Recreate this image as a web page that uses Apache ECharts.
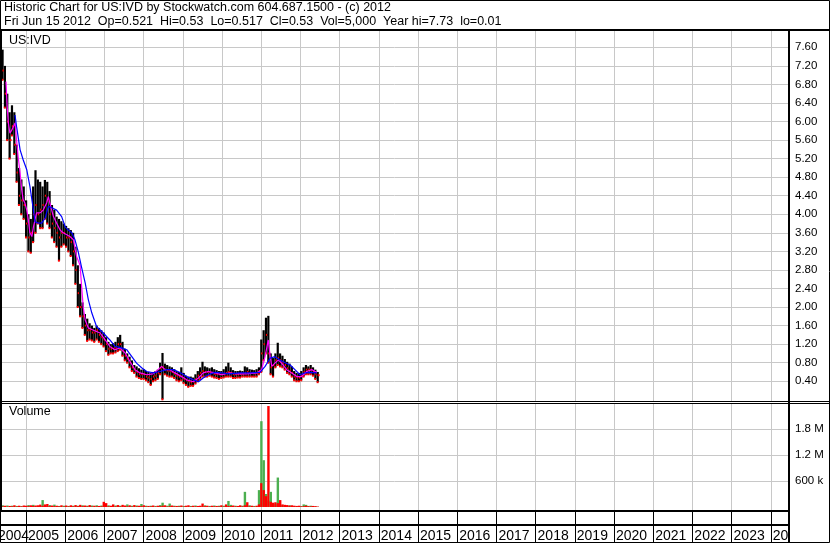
<!DOCTYPE html>
<html><head><meta charset="utf-8">
<script src="https://cdn.jsdelivr.net/npm/echarts@6/dist/echarts.min.js"></script>
<style>html,body{margin:0;padding:0;background:#fff}#c{width:830px;height:543px}</style>
</head><body><div id="c"></div>
<script>
// ---- tick labels ----
const priceTicks = [0.4,0.8,1.2,1.6,2.0,2.4,2.8,3.2,3.6,4.0,4.4,4.8,5.2,5.6,6.0,6.4,6.8,7.2,7.6];
const volTicks = [600,1200,1800]; // thousands
const yearTicks = [2005,2006,2007,2008,2009,2010,2011,2012,2013,2014,2015,2016,2017,2018,2019,2020,2021,2022,2023,2024];
const firstYearLabel = '2004'; // partial year at the left edge of the axis

// ---- price bars (decimal year, high, low, close) ----
const barDates = [2004.34,2004.40,2004.46,2004.52,2004.58,2004.64,2004.70,2004.76,2004.82,2004.88,2004.94,2005.00,2005.06,2005.12,2005.18,2005.24,2005.30,2005.36,2005.42,2005.48,2005.54,2005.60,2005.66,2005.72,2005.78,2005.84,2005.90,2005.96,2006.02,2006.08,2006.14,2006.20,2006.26,2006.32,2006.38,2006.44,2006.50,2006.56,2006.62,2006.68,2006.74,2006.80,2006.86,2006.92,2006.98,2007.04,2007.10,2007.16,2007.22,2007.28,2007.34,2007.40,2007.46,2007.52,2007.58,2007.64,2007.70,2007.76,2007.82,2007.88,2007.94,2008.00,2008.06,2008.12,2008.18,2008.24,2008.30,2008.36,2008.42,2008.48,2008.54,2008.60,2008.66,2008.72,2008.78,2008.84,2008.90,2008.96,2009.02,2009.08,2009.14,2009.20,2009.26,2009.32,2009.38,2009.44,2009.50,2009.56,2009.62,2009.68,2009.74,2009.80,2009.86,2009.92,2009.98,2010.04,2010.10,2010.16,2010.22,2010.28,2010.34,2010.40,2010.46,2010.52,2010.58,2010.64,2010.70,2010.76,2010.82,2010.88,2010.94,2011.00,2011.06,2011.12,2011.18,2011.24,2011.30,2011.36,2011.42,2011.48,2011.54,2011.60,2011.66,2011.72,2011.78,2011.84,2011.90,2011.96,2012.02,2012.08,2012.14,2012.20,2012.26,2012.32,2012.38,2012.44];
const barHigh = [7.72,7.55,7.20,6.60,6.20,6.35,6.20,5.50,5.00,4.75,4.60,4.30,4.00,3.90,4.60,4.95,4.75,4.70,4.60,4.74,4.70,4.50,4.20,4.10,3.95,3.90,3.85,3.80,3.75,3.70,3.66,3.60,3.30,2.90,2.50,2.10,1.85,1.75,1.65,1.60,1.55,1.60,1.55,1.50,1.45,1.35,1.25,1.20,1.22,1.25,1.35,1.40,1.25,1.10,1.00,0.93,0.85,0.75,0.72,0.68,0.65,0.66,0.62,0.60,0.58,0.60,0.62,0.65,0.80,1.01,0.78,0.75,0.72,0.70,0.66,0.62,0.60,0.70,0.58,0.52,0.50,0.50,0.48,0.55,0.62,0.70,0.82,0.72,0.70,0.68,0.70,0.66,0.64,0.62,0.62,0.66,0.72,0.80,0.70,0.64,0.62,0.62,0.63,0.62,0.72,0.70,0.66,0.65,0.64,0.66,0.70,1.30,1.50,1.77,1.81,1.00,0.90,1.00,1.23,1.00,0.95,0.88,0.82,0.78,0.72,0.62,0.58,0.58,0.62,0.70,0.75,0.72,0.75,0.70,0.65,0.60];
const barLow = [7.00,6.90,6.30,5.60,5.20,5.70,5.30,4.70,4.20,4.00,3.90,3.50,3.20,3.17,3.40,3.60,3.80,3.70,3.70,3.90,3.80,3.70,3.50,3.40,3.30,3.00,3.30,3.35,3.30,3.20,3.10,2.90,2.50,2.00,1.80,1.55,1.40,1.27,1.30,1.28,1.25,1.30,1.25,1.20,1.15,1.05,0.97,1.00,1.00,1.02,1.05,1.08,0.95,0.85,0.80,0.70,0.62,0.58,0.50,0.47,0.45,0.45,0.42,0.38,0.32,0.40,0.42,0.45,0.55,0.01,0.55,0.52,0.50,0.50,0.47,0.42,0.40,0.42,0.36,0.32,0.28,0.30,0.30,0.35,0.40,0.45,0.50,0.50,0.50,0.52,0.50,0.48,0.47,0.45,0.47,0.48,0.50,0.50,0.50,0.47,0.47,0.48,0.48,0.50,0.50,0.50,0.50,0.50,0.50,0.50,0.55,0.60,0.85,1.00,0.80,0.55,0.50,0.70,0.75,0.72,0.70,0.65,0.58,0.55,0.50,0.42,0.40,0.40,0.42,0.50,0.55,0.55,0.55,0.52,0.45,0.38];
const barClose = [7.30,7.10,6.60,6.00,5.60,5.90,5.50,4.90,4.40,4.30,4.20,3.80,3.50,3.60,4.00,4.20,4.00,4.10,4.20,4.40,4.30,4.00,3.80,3.70,3.60,3.50,3.60,3.60,3.50,3.50,3.40,3.20,2.80,2.30,2.00,1.80,1.60,1.50,1.50,1.45,1.45,1.50,1.40,1.35,1.30,1.20,1.10,1.10,1.10,1.12,1.20,1.20,1.05,0.95,0.88,0.80,0.70,0.65,0.60,0.55,0.55,0.55,0.50,0.48,0.45,0.50,0.52,0.58,0.68,0.70,0.65,0.63,0.62,0.60,0.56,0.52,0.50,0.50,0.45,0.42,0.40,0.38,0.40,0.45,0.52,0.58,0.62,0.60,0.60,0.60,0.58,0.56,0.55,0.55,0.55,0.56,0.58,0.60,0.58,0.55,0.55,0.55,0.56,0.56,0.58,0.60,0.58,0.58,0.57,0.58,0.62,1.00,1.20,1.40,1.00,0.70,0.75,0.85,0.90,0.85,0.80,0.75,0.68,0.62,0.58,0.50,0.48,0.48,0.52,0.60,0.65,0.65,0.65,0.60,0.55,0.53];

// ---- moving averages [decimal year, value] ----
const maShort = [[2004.49,6.86],[2004.52,6.32],[2004.55,5.97],[2004.59,5.75],[2004.64,5.82],[2004.68,5.89],[2004.72,5.97],[2004.76,5.6],[2004.80,5.24],[2004.85,4.89],[2004.89,4.53],[2004.93,4.31],[2004.97,4.25],[2005.02,4.09],[2005.06,3.88],[2005.10,3.6],[2005.15,3.52],[2005.19,3.73],[2005.23,3.88],[2005.27,4.03],[2005.31,4.06],[2005.36,4.03],[2005.44,4.09],[2005.53,4.25],[2005.57,4.38],[2005.61,4.24],[2005.70,3.95],[2005.78,3.81],[2005.87,3.66],[2005.95,3.6],[2006.04,3.56],[2006.12,3.52],[2006.21,3.45],[2006.29,3.09],[2006.38,2.9],[2006.42,2.44],[2006.46,2.0],[2006.51,1.72],[2006.59,1.55],[2006.72,1.5],[2006.89,1.44],[2007.02,1.29],[2007.14,1.15],[2007.27,1.08],[2007.40,1.12],[2007.53,1.01],[2007.65,0.83],[2007.78,0.65],[2007.91,0.58],[2008.08,0.54],[2008.24,0.56],[2008.37,0.65],[2008.46,0.72],[2008.55,0.65],[2008.67,0.65],[2008.80,0.58],[2008.97,0.5],[2009.10,0.43],[2009.27,0.39],[2009.40,0.47],[2009.52,0.58],[2009.65,0.61],[2009.82,0.58],[2009.99,0.54],[2010.20,0.58],[2010.37,0.56],[2010.63,0.56],[2010.89,0.58],[2011.01,0.65],[2011.10,0.93],[2011.18,1.29],[2011.23,0.93],[2011.27,0.72],[2011.35,0.79],[2011.44,0.86],[2011.52,0.79],[2011.65,0.65],[2011.78,0.58],[2011.91,0.5],[2012.03,0.5],[2012.16,0.61],[2012.29,0.65],[2012.42,0.59]];
const maLong = [[2004.72,6.14],[2004.76,5.89],[2004.80,5.67],[2004.85,5.39],[2004.93,5.17],[2005.02,4.96],[2005.10,4.6],[2005.19,4.09],[2005.23,3.84],[2005.31,3.81],[2005.40,3.81],[2005.49,3.92],[2005.57,4.17],[2005.66,4.14],[2005.78,4.09],[2005.91,3.95],[2006.00,3.73],[2006.08,3.66],[2006.17,3.6],[2006.25,3.45],[2006.33,3.2],[2006.42,2.85],[2006.51,2.52],[2006.59,2.16],[2006.68,1.87],[2006.80,1.58],[2006.97,1.44],[2007.14,1.29],[2007.27,1.15],[2007.44,1.12],[2007.57,1.08],[2007.70,0.93],[2007.82,0.79],[2007.95,0.69],[2008.08,0.61],[2008.25,0.58],[2008.42,0.61],[2008.59,0.65],[2008.76,0.65],[2008.93,0.59],[2009.10,0.5],[2009.27,0.43],[2009.40,0.39],[2009.52,0.47],[2009.65,0.54],[2009.82,0.59],[2009.99,0.58],[2010.20,0.56],[2010.46,0.58],[2010.71,0.58],[2010.97,0.59],[2011.10,0.72],[2011.23,0.9],[2011.35,0.93],[2011.48,0.86],[2011.61,0.8],[2011.74,0.75],[2011.86,0.65],[2011.99,0.54],[2012.12,0.58],[2012.25,0.59],[2012.42,0.58]];

// ---- volume (thousands) per bar date: up (green) and down (red) ----
const volGreen = [20,40,15,35,10,30,15,25,10,20,15,10,45,15,50,20,15,25,160,20,30,45,15,55,10,25,15,30,10,25,15,30,20,30,15,40,15,30,20,35,15,40,10,35,20,25,40,15,20,35,15,30,15,20,60,15,30,10,35,10,70,15,30,10,30,15,25,10,45,100,15,30,80,15,30,10,30,15,25,10,15,25,10,35,10,20,15,40,15,25,10,35,10,30,15,30,20,140,50,15,30,10,20,30,350,40,40,15,25,10,390,1980,1080,300,150,350,80,60,680,50,40,30,20,40,25,15,20,15,20,60,50,25,30,15,10,5];
const volRed = [240,15,30,10,25,15,40,10,30,15,35,30,20,40,25,35,40,55,30,60,70,20,35,20,30,15,40,10,35,15,40,15,45,20,50,20,35,15,45,10,30,15,25,15,120,90,15,30,60,15,45,15,50,35,15,40,10,45,15,30,20,40,10,25,15,35,10,30,20,30,40,10,20,35,15,25,15,35,10,30,40,10,30,15,25,30,80,20,30,10,30,15,25,15,40,10,60,25,20,35,15,25,40,15,40,110,15,30,10,30,60,550,390,250,2330,120,100,110,90,160,60,50,45,30,40,30,25,30,15,20,30,20,15,25,20,10];

const XMIN = 2004.337, XMAX = 2024.465;
const FONT = 'Liberation Sans, Arial, sans-serif';

const ohlc = barDates.map((d, i) => [d, barHigh[i], barLow[i], barClose[i]]);
const vols = barDates.map((d, i) => [d, volGreen[i], volRed[i]]);

const chart = echarts.init(document.getElementById('c'), null, {renderer: 'canvas'});
const grey = '#c8c8c8';
function xAx(gi, extra) {
  return Object.assign({
    type: 'value', gridIndex: gi, min: XMIN, max: XMAX,
    axisLine: {show: false},
    axisTick: {show: false, customValues: yearTicks},
    axisLabel: {show: false},
    splitLine: {show: true, lineStyle: {color: grey, width: 1}}
  }, extra || {});
}
const option = {
  animation: false,
  backgroundColor: '#fff',
  title: [
    {text: 'Historic Chart for US:IVD by Stockwatch.com 604.687.1500 - (c) 2012\nFri Jun 15 2012  Op=0.521  Hi=0.53  Lo=0.517  Cl=0.53  Vol=5,000  Year hi=7.73  lo=0.01',
     left: 4, top: 1, padding: 0,
     textStyle: {fontSize: 12.5, fontWeight: 'normal', color: '#000', lineHeight: 14, fontFamily: FONT}},
    {text: 'US:IVD', left: 9, top: 34, padding: 0,
     textStyle: {fontSize: 12.5, fontWeight: 'normal', color: '#000', lineHeight: 14, fontFamily: FONT}},
    {text: 'Volume', left: 9, top: 405, padding: 0,
     textStyle: {fontSize: 12.5, fontWeight: 'normal', color: '#000', lineHeight: 14, fontFamily: FONT}}
  ],
  grid: [
    {left: 0, top: 31, width: 789, height: 370},
    {left: 0, top: 403, width: 789, height: 108},
    {left: 0, top: 511, width: 789, height: 15}
  ],
  xAxis: [
    xAx(0), xAx(1),
    xAx(2, {
      position: 'bottom',
      axisLine: {show: true, lineStyle: {color: '#000', width: 2}},
      axisTick: {show: true, inside: false, length: 17, customValues: yearTicks, lineStyle: {color: '#000', width: 1}},
      axisLabel: {show: true, customValues: yearTicks, align: 'left', margin: 4, padding: [0,0,0,2],
        showMinLabel: true, showMaxLabel: true, hideOverlap: false,
        fontSize: 14, color: '#000', fontFamily: FONT,
        formatter: v => String(v)},
      splitLine: {show: true, lineStyle: {color: '#000', width: 1}}
    })
  ],
  yAxis: [
    {type: 'value', gridIndex: 0, position: 'right', min: -0.026, max: 7.952,
     axisLine: {show: false}, axisTick: {show: false, customValues: priceTicks},
     axisLabel: {customValues: priceTicks, formatter: v => v.toFixed(2), margin: 6, align: 'left',
       fontSize: 11.5, color: '#000', fontFamily: FONT},
     splitLine: {show: true, lineStyle: {color: grey, width: 1}}},
    {type: 'value', gridIndex: 1, position: 'right', min: -92, max: 2400,
     axisLine: {show: false}, axisTick: {show: false, customValues: volTicks},
     axisLabel: {customValues: volTicks, formatter: v => v >= 1000 ? (v / 1000).toFixed(1) + ' M' : v + ' k',
       margin: 6, align: 'left', fontSize: 11.5, color: '#000', fontFamily: FONT},
     splitLine: {show: true, lineStyle: {color: grey, width: 1}}},
    {type: 'value', gridIndex: 2, show: false, min: 0, max: 1}
  ],
  series: [
    {type: 'custom', xAxisIndex: 0, yAxisIndex: 0, data: ohlc, encode: {x: 0, y: [1, 2, 3]},
     renderItem: function (params, api) {
       const x = api.value(0);
       const pH = api.coord([x, api.value(1)]);
       const pL = api.coord([x, api.value(2)]);
       const pC = api.coord([x, api.value(3)]);
       return {type: 'group', children: [
         {type: 'rect', shape: {x: pH[0] - 1, y: pH[1], width: 2.2, height: Math.max(1, pL[1] - pH[1])}, style: {fill: '#000'}},
         {type: 'rect', shape: {x: pC[0], y: pC[1] - 1, width: 2, height: 2}, style: {fill: '#ff0000'}},
         {type: 'rect', shape: {x: pL[0] - 1, y: pL[1] - 1, width: 2, height: 2}, style: {fill: '#ff0000'}}
       ]};
     }},
    {type: 'line', xAxisIndex: 0, yAxisIndex: 0, data: maShort, showSymbol: false, symbol: 'none',
     lineStyle: {color: '#ff00ff', width: 1.2}, z: 5},
    {type: 'line', xAxisIndex: 0, yAxisIndex: 0, data: maLong, showSymbol: false, symbol: 'none',
     lineStyle: {color: '#0000ff', width: 1.2}, z: 6},
    {type: 'custom', xAxisIndex: 1, yAxisIndex: 1, data: vols, encode: {x: 0, y: [1, 2]},
     renderItem: function (params, api) {
       const x = api.value(0);
       const p0 = api.coord([x, 0]);
       const pG = api.coord([x, api.value(1)]);
       const pR = api.coord([x, api.value(2)]);
       return {type: 'group', children: [
         {type: 'rect', shape: {x: p0[0] - 1, y: pG[1], width: 2.4, height: p0[1] - pG[1]}, style: {fill: '#4caf50'}},
         {type: 'rect', shape: {x: p0[0] - 1, y: pR[1], width: 2.4, height: p0[1] - pR[1]}, style: {fill: '#ff0000'}}
       ]};
     }}
  ],
  graphic: [
    {type: 'text', z: 50, x: -2, y: 529.5, style: {text: firstYearLabel, fill: '#000', font: '14px ' + FONT, verticalAlign: 'top', align: 'left'}},
    {type: 'rect', z: 99, shape: {x: 790, y: 512, width: 39, height: 30}, style: {fill: '#fff'}},
    {type: 'rect', z: 100, shape: {x: 0.5, y: 0.5, width: 829, height: 542}, style: {fill: null, stroke: '#000', lineWidth: 1}},
    {type: 'line', z: 100, shape: {x1: 0, y1: 30, x2: 830, y2: 30}, style: {stroke: '#000', lineWidth: 2}},
    {type: 'line', z: 100, shape: {x1: 1, y1: 30, x2: 1, y2: 511}, style: {stroke: '#000', lineWidth: 2}},
    {type: 'line', z: 100, shape: {x1: 789, y1: 30, x2: 789, y2: 543}, style: {stroke: '#000', lineWidth: 2}},
    {type: 'line', z: 100, shape: {x1: 0, y1: 401.5, x2: 830, y2: 401.5}, style: {stroke: '#000', lineWidth: 1}},
    {type: 'line', z: 100, shape: {x1: 0, y1: 403.5, x2: 830, y2: 403.5}, style: {stroke: '#000', lineWidth: 1}},
    {type: 'line', z: 100, shape: {x1: 0, y1: 511, x2: 789, y2: 511}, style: {stroke: '#000', lineWidth: 2}}
  ]
};
chart.setOption(option);
</script></body></html>
